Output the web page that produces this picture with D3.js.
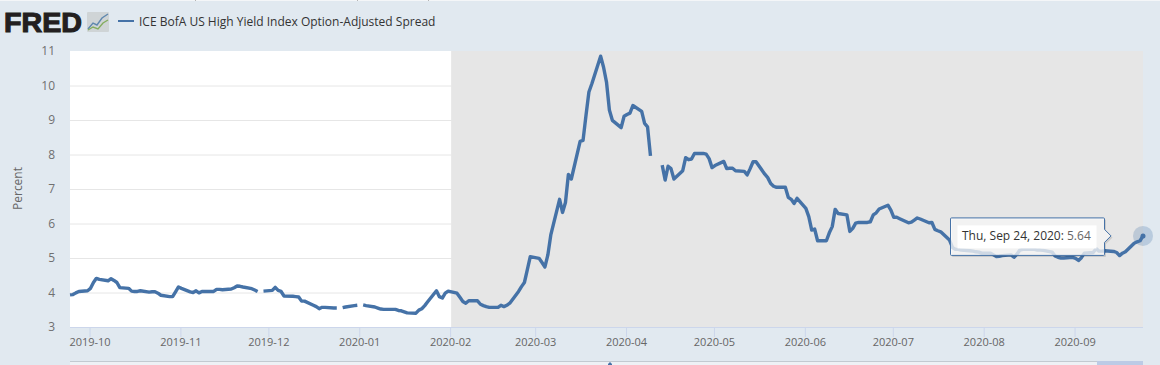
<!DOCTYPE html>
<html>
<head>
<meta charset="utf-8">
<script src="https://cdn.jsdelivr.net/npm/d3@7"></script>
<style>
  html, body { margin: 0; padding: 0; background: #e1e9f0; overflow: hidden; }
  text { font-family: "Open Sans", sans-serif; }
</style>
</head>
<body>
<div id="chart"></div>
<script>
// spread per weekday, null where the series has a holiday gap
var sep2019 = [3.93, 3.94, 3.99, 4.03, 4.05];
var oct2019 = [4.12, 4.29, 4.41, 4.38, 4.34, 4.40, 4.35, 4.29, 4.14, 4.12, 4.04, 4.03, 4.03, 4.05, 4.01, 4.02, 4.02, 3.98, 3.92, 3.88, 3.88, 4.02, 4.16];
var nov2019 = [4.12, 4.02, 4.00, 4.05, 3.99, 4.03, 4.03, 4.03, 4.09, 4.09, 4.08, 4.10, 4.14, 4.19, 4.18, 4.16, 4.11, 4.07, 4.03, null, 4.04];
var dec2019 = [4.06, 4.15, 4.06, 4.03, 3.90, 3.89, 3.88, 3.87, 3.75, 3.75, 3.63, 3.59, 3.53, 3.57, 3.57, 3.55, 3.55, null, 3.56, 3.58, 3.62, 3.63];
var jan2020 = [null, 3.64, 3.62, 3.58, 3.55, 3.52, 3.51, 3.51, 3.51, 3.48, 3.47, 3.44, 3.41, 3.40, 3.49, 3.53, 3.62, 3.73, 4.05, 3.88, 3.84, 3.98, 4.04];
var feb2020 = [3.98, 3.86, 3.74, 3.69, 3.76, 3.76, 3.66, 3.62, 3.59, 3.57, 3.57, 3.63, 3.59, 3.63, 3.69, 4.03, 4.17, 4.29, 4.66, 5.04];
var mar2020 = [4.99, 4.87, 4.74, 5.09, 5.67, 6.70, 6.32, 6.61, 7.42, 7.29, 8.38, 8.41, 9.13, 9.81, 10.05, 10.85, 10.53, 10.10, 9.28, 8.99, 8.78, 9.11];
var apr2020 = [9.16, 9.20, 9.42, 9.25, 8.90, 8.80, 7.96, null, 7.69, 7.26, 7.66, 7.59, 7.29, 7.53, 7.91, 7.85, 7.87, 8.03, 8.03, 8.01, 7.88, 7.62];
var may2020 = [7.68, 7.80, 7.59, 7.60, 7.60, 7.53, 7.51, 7.41, 7.59, 7.79, 7.79, 7.43, 7.33, 7.16, 7.08, 7.05, 7.05, 6.76, 6.70, 6.58, 6.73];
var jun2020 = [6.44, 6.20, 5.81, 5.84, 5.50, 5.50, 5.73, 5.91, 6.41, 6.29, 6.25, 5.77, 5.86, 6.01, 6.03, 6.03, 6.05, 6.25, 6.31, 6.42, 6.53, 6.39];
var jul2020 = [6.18, 6.18, 6.14, 6.02, 6.04, 6.10, 6.16, 6.13, 6.02, 6.03, 5.83, 5.79, 5.76, 5.52, 5.31, 5.25, 5.25, 5.23, 5.21, 5.20, 5.18, 5.17, 5.14];
var aug2020 = [5.14, 5.09, 5.04, 5.05, 5.07, 5.09, 5.02, 5.11, 5.23, 5.25, 5.25, 5.25, 5.23, 5.23, 5.22, 5.17, 5.06, 5.02, 5.00, 5.00, 5.02];
var sep2020 = [4.99, 4.93, 5.01, 5.14, 5.16, 5.27, 5.20, 5.20, 5.21, 5.19, 5.16, 5.07, 5.14, 5.18, 5.43, 5.47, 5.50, 5.64];

var spread = [].concat(sep2019, oct2019, nov2019, dec2019, jan2020, feb2020, mar2020, apr2020, may2020, jun2020, jul2020, aug2020, sep2020);

var firstDay = new Date(Date.UTC(2019, 8, 24));
var lastDay = new Date(Date.UTC(2020, 8, 24));
var shadeStart = new Date(Date.UTC(2020, 1, 1));
var yTicks = [3, 4, 5, 6, 7, 8, 9, 10, 11];
var seriesName = "ICE BofA US High Yield Index Option-Adjusted Spread";
var tooltipDate = "Thu, Sep 24, 2020:";
var tooltipValue = "5.64";

// one value for each weekday in the range
var dates = d3.utcDay.range(firstDay, d3.utcDay.offset(lastDay, 1))
    .filter(function(d) { return d.getUTCDay() != 0 && d.getUTCDay() != 6; });

var data = dates.map(function(d, i) { return { date: d, value: spread[i] }; });

var margin = { top: 51, right: 17, bottom: 38, left: 70 },
    totalWidth = 1160,
    totalHeight = 365,
    width = totalWidth - margin.left - margin.right,
    height = totalHeight - margin.top - margin.bottom;

var color = "#4572a7";

var root = d3.select("#chart")
    .append("svg")
    .attr("width", totalWidth)
    .attr("height", totalHeight)
    .style("display", "block");

root.append("rect")
    .attr("width", totalWidth)
    .attr("height", totalHeight)
    .attr("fill", "#e1e9f0");

// bit of the page above the chart
root.append("rect")
    .attr("width", totalWidth)
    .attr("height", 1)
    .attr("fill", "#f4f6f8");

root.selectAll(".topmark")
    .data([195, 357, 428])
    .enter()
    .append("rect")
    .attr("class", "topmark")
    .attr("x", function(d) { return d; })
    .attr("width", 1)
    .attr("height", 1)
    .attr("fill", "#b5b5b5");

// logo
root.append("text")
    .attr("x", 4)
    .attr("y", 32)
    .attr("textLength", 78)
    .attr("lengthAdjust", "spacingAndGlyphs")
    .style("font-family", "'Liberation Sans', sans-serif")
    .style("font-weight", "bold")
    .style("font-size", "28px")
    .attr("stroke", "#231f20")
    .attr("stroke-width", 1.1)
    .attr("fill", "#231f20")
    .text("FRED");

var logoIcon = root.append("g").attr("transform", "translate(87,12)");
logoIcon.append("rect")
    .attr("width", 22)
    .attr("height", 20)
    .attr("rx", 1)
    .attr("fill", "#cfd4d6");
logoIcon.append("path")
    .attr("d", "M1,17 L6,11 L10,13 L15,6 L21,2")
    .attr("fill", "none")
    .attr("stroke", "#5f88ae")
    .attr("stroke-width", 1.4);
logoIcon.append("path")
    .attr("d", "M1,18 L6,15 L11,17 L16,11 L21,8")
    .attr("fill", "none")
    .attr("stroke", "#84ad5f")
    .attr("stroke-width", 1.4);

// legend
root.append("line")
    .attr("x1", 118)
    .attr("x2", 134)
    .attr("y1", 21)
    .attr("y2", 21)
    .attr("stroke", color)
    .attr("stroke-width", 2);

root.append("text")
    .attr("x", 139)
    .attr("y", 26)
    .style("font-size", "12px")
    .attr("fill", "#333")
    .text(seriesName);

var svg = root.append("g")
    .attr("transform", "translate(" + margin.left + "," + margin.top + ")");

var x = d3.scaleUtc()
    .domain([firstDay, lastDay])
    .range([0, width]);

var y = d3.scaleLinear()
    .domain([3, 11])
    .range([height, 0]);

// plot background
svg.append("rect")
    .attr("width", width)
    .attr("height", height)
    .attr("fill", "#fff");

// grid
svg.append("g")
    .selectAll("line")
    .data(yTicks.slice(1, -1))
    .enter()
    .append("line")
    .attr("x1", 0)
    .attr("x2", width)
    .attr("y1", function(d) { return y(d) + 0.5; })
    .attr("y2", function(d) { return y(d) + 0.5; })
    .attr("stroke", "#e6e6e6");

// shaded band
svg.append("rect")
    .attr("x", x(shadeStart))
    .attr("width", width - x(shadeStart))
    .attr("height", height)
    .attr("fill", "#e6e6e6");

// x axis, ticks sit about a pixel left of the data in the original
var xAxis = svg.append("g")
    .attr("transform", "translate(-1," + height + ")")
    .call(d3.axisBottom(x)
        .ticks(d3.utcMonth.every(1))
        .tickFormat(d3.utcFormat("%Y-%m"))
        .tickSize(10)
        .tickPadding(1));
xAxis.select(".domain").remove();
xAxis.selectAll("line").attr("stroke", "#ccd6eb");
xAxis.selectAll("text")
    .style("font-size", "11px")
    .attr("fill", "#666");

svg.append("line")
    .attr("x1", 0)
    .attr("x2", width)
    .attr("y1", height + 0.5)
    .attr("y2", height + 0.5)
    .attr("stroke", "#ccd6eb");

// y axis
var yAxis = svg.append("g")
    .call(d3.axisLeft(y)
        .tickValues(yTicks)
        .tickSize(0)
        .tickPadding(15));
yAxis.select(".domain").remove();
yAxis.selectAll("text")
    .style("font-size", "12px")
    .attr("fill", "#707070");

root.append("text")
    .attr("transform", "translate(22,188.5) rotate(-90)")
    .attr("text-anchor", "middle")
    .style("font-size", "12px")
    .attr("fill", "#666")
    .text("Percent");

// the series
var line = d3.line()
    .defined(function(d) { return d.value != null; })
    .x(function(d) { return x(d.date); })
    .y(function(d) { return y(d.value); });

svg.append("path")
    .datum(data)
    .attr("d", line)
    .attr("fill", "none")
    .attr("stroke", color)
    .attr("stroke-width", 3.4)
    .attr("stroke-linejoin", "round");

// hovered point
var last = data[data.length - 1];
var lastX = x(last.date), lastY = y(last.value);

svg.append("circle")
    .attr("cx", lastX)
    .attr("cy", lastY)
    .attr("r", 10)
    .attr("fill", color)
    .attr("fill-opacity", 0.25);

svg.append("circle")
    .attr("cx", lastX)
    .attr("cy", lastY)
    .attr("r", 2.5)
    .attr("fill", color);

// tooltip, placed relative to the hovered point
var tip = svg.append("g")
    .attr("transform", "translate(" + (lastX - 193) + "," + (lastY - 18.5) + ")");

var tipShape = "M1.5,0.5 L153.5,0.5 Q154.5,0.5 154.5,1.5 L154.5,12 L161,18.5 L154.5,25 L154.5,37 Q154.5,38 153.5,38 L1.5,38 Q0.5,38 0.5,37 L0.5,1.5 Q0.5,0.5 1.5,0.5 Z";

tip.append("path")
    .attr("d", tipShape)
    .attr("transform", "translate(1.5,1.5)")
    .attr("fill", "#000")
    .attr("fill-opacity", 0.12);

tip.append("path")
    .attr("d", tipShape)
    .attr("fill", "#fff")
    .attr("fill-opacity", 0.75)
    .attr("stroke", color)
    .attr("stroke-width", 1);

tip.append("rect")
    .attr("x", 7.5)
    .attr("y", 8)
    .attr("width", 139)
    .attr("height", 23)
    .attr("fill", "#fff");

var tipText = tip.append("text")
    .attr("x", 12)
    .attr("y", 23)
    .style("font-size", "12px");
tipText.append("tspan").attr("fill", "#333").text(tooltipDate + " ");
tipText.append("tspan").attr("fill", "#666").text(tooltipValue);

// navigator strip cut off by the bottom of the picture
root.append("rect")
    .attr("x", margin.left)
    .attr("y", 361)
    .attr("width", 1027)
    .attr("height", 4)
    .attr("fill", "#eef1f5");
root.append("line")
    .attr("x1", margin.left)
    .attr("x2", 1097)
    .attr("y1", 361.5)
    .attr("y2", 361.5)
    .attr("stroke", "#c3cad1");
root.append("rect")
    .attr("x", 1097)
    .attr("y", 361)
    .attr("width", 46)
    .attr("height", 4)
    .attr("fill", "#bccbe6");
root.append("path")
    .attr("d", "M610,362 L612,364 L612,365 L608,365 L608,364 Z")
    .attr("fill", color);
</script>
</body>
</html>
